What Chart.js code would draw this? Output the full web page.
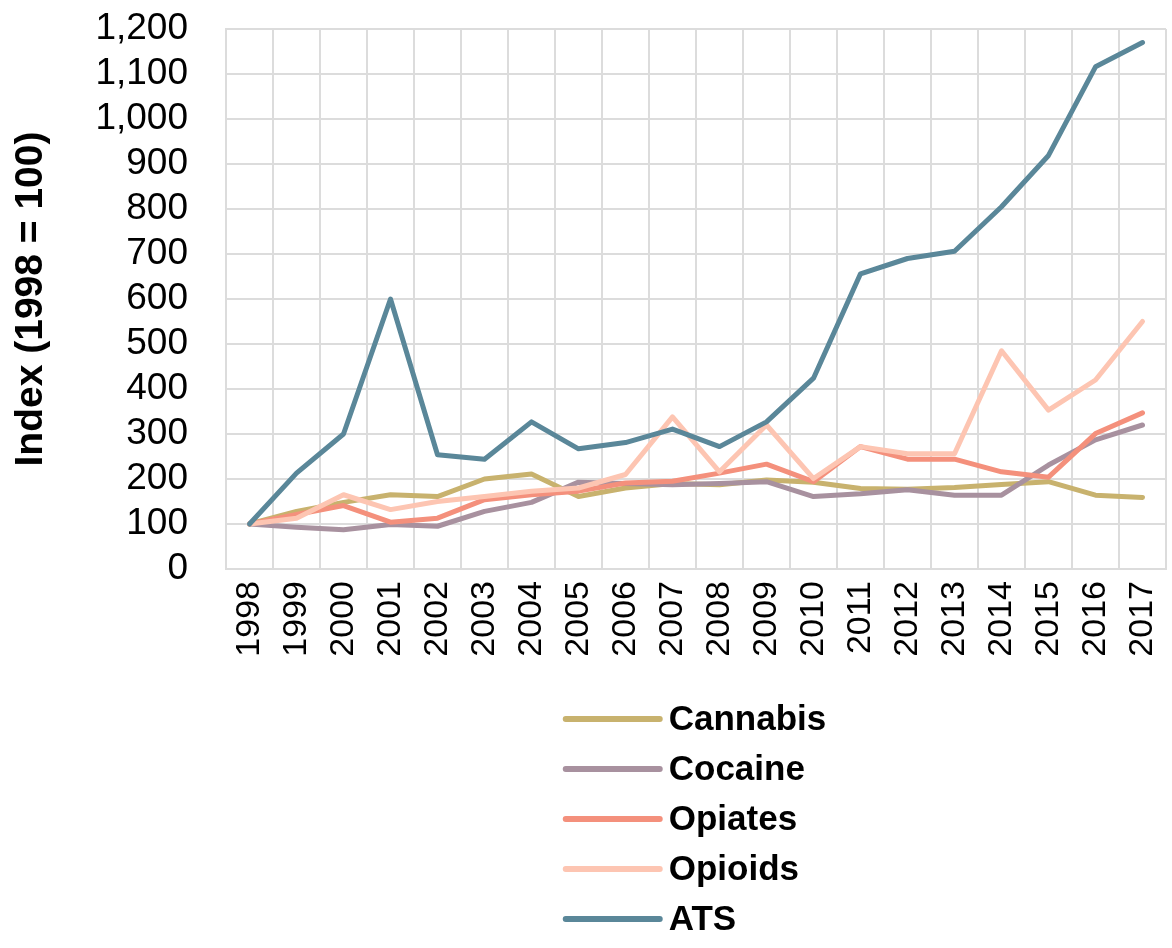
<!DOCTYPE html>
<html>
<head>
<meta charset="utf-8">
<title>Index (1998 = 100)</title>
<script src="https://cdn.jsdelivr.net/npm/chart.js@4"></script>
<style>
    body { margin: 0; background: #ffffff; }
    #wrap { width: 1172px; height: 948px; }
</style>
</head>
<body>
<div id="wrap"><canvas id="chart_index"></canvas></div>
<script>
//Données du graphique
const years = ['1998','1999','2000','2001','2002','2003','2004','2005','2006','2007',
               '2008','2009','2010','2011','2012','2013','2014','2015','2016','2017'];
const seriesNames = ['Cannabis', 'Cocaine', 'Opiates', 'Opioids', 'ATS'];
const cannabis = [100,128,148,165,161,200,211,161,180,190,187,198,193,179,177,181,188,194,164,159];
const cocaine  = [100,93,87,99,95,128,148,193,190,187,190,194,161,167,176,164,164,231,287,320];
const opiates  = [100,121,141,104,113,154,165,173,191,195,213,233,194,272,244,244,216,204,301,347];
const opioids  = [100,113,165,132,150,161,173,180,210,338,216,320,201,272,256,256,485,353,420,550];
const ats      = [100,213,300,600,254,244,327,267,281,311,272,327,424,656,690,706,805,919,1116,1170];
const yMin = 0, yMax = 1200, yStep = 100;

const colors = ['#C8B26E', '#A8919F', '#F4907C', '#FDC5B2', '#5A8799'];
const gridColor = '#DCDCDC';

//Légende verticale dessinée sous le graphique
const verticalLegend = {
    id: 'verticalLegend',
    afterDraw(chart) {
        const ctx = chart.ctx;
        const area = chart.chartArea;
        ctx.save();
        ctx.font = 'bold 35px "Liberation Sans", Arial, sans-serif';
        let maxText = 0;
        chart.data.datasets.forEach(ds => {
            maxText = Math.max(maxText, ctx.measureText(ds.label).width);
        });
        const lineLen = 94, gap = 9;
        const blockW = lineLen + gap + maxText;
        const x0 = (area.left + area.right) / 2 - blockW / 2;
        chart.data.datasets.forEach((ds, i) => {
            const y = area.bottom + 150 + i * 50;
            ctx.strokeStyle = ds.borderColor;
            ctx.lineWidth = 6;
            ctx.lineCap = 'round';
            ctx.beginPath();
            ctx.moveTo(x0, y);
            ctx.lineTo(x0 + lineLen, y);
            ctx.stroke();
            ctx.fillStyle = '#000000';
            ctx.textBaseline = 'middle';
            ctx.textAlign = 'left';
            ctx.fillText(ds.label, x0 + lineLen + gap, y + 1);
        });
        ctx.restore();
    }
};

const allSeries = [cannabis, cocaine, opiates, opioids, ats];

const ctx = document.getElementById('chart_index');
new Chart(ctx, {
    type: 'line',
    data: {
        labels: years,
        datasets: allSeries.map((values, i) => ({
            label: seriesNames[i],
            data: values,
            borderColor: colors[i],
            backgroundColor: colors[i],
            borderWidth: 5,
            pointRadius: 0,
            tension: 0,
            fill: false,
            borderJoinStyle: 'round',
            borderCapStyle: 'round',
            //Comme Excel: la dernière série par-dessus
            order: allSeries.length - i
        }))
    },
    options: {
        responsive: true,
        maintainAspectRatio: false,
        animation: false,
        layout: {
            padding: { left: 0, right: 6, top: 29, bottom: 0 }
        },
        plugins: {
            legend: { display: false },
            tooltip: { enabled: false }
        },
        scales: {
            x: {
                offset: true,
                grid: {
                    offset: true,
                    color: gridColor,
                    lineWidth: 2,
                    drawTicks: true,
                    tickLength: 12,
                    tickColor: 'rgba(0,0,0,0)'
                },
                border: { color: gridColor, width: 2 },
                ticks: {
                    autoSkip: false,
                    minRotation: 90,
                    maxRotation: 90,
                    padding: 0,
                    color: '#000000',
                    font: { family: '"Liberation Sans", Arial, sans-serif', size: 34 }
                },
                afterFit(scale) {
                    scale.height = 379;
                    //Les étiquettes tournées ne débordent pas sur les côtés
                    scale.paddingLeft = 0;
                    scale.paddingRight = 0;
                }
            },
            y: {
                min: yMin,
                max: yMax,
                grid: {
                    color: gridColor,
                    lineWidth: 2,
                    drawTicks: true,
                    tickLength: 38,
                    tickColor: 'rgba(0,0,0,0)'
                },
                border: { color: gridColor, width: 2 },
                ticks: {
                    stepSize: yStep,
                    autoSkip: false,
                    padding: 0,
                    color: '#000000',
                    font: { family: '"Liberation Sans", Arial, sans-serif', size: 37 },
                    callback: (value) => value.toLocaleString('en-US')
                },
                title: {
                    display: true,
                    text: 'Index (1998 = 100)',
                    color: '#000000',
                    padding: { top: 8, bottom: 0 },
                    font: { family: '"Liberation Sans", Arial, sans-serif', size: 39, weight: 'bold' }
                },
                afterFit(scale) {
                    scale.width = 226;
                }
            }
        }
    },
    plugins: [verticalLegend]
});
</script>
</body>
</html>
